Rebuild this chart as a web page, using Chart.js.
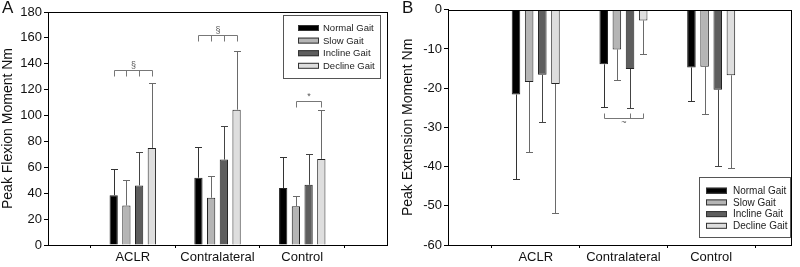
<!DOCTYPE html>
<html>
<head>
<meta charset="utf-8">
<script src="https://cdn.jsdelivr.net/npm/chart.js@4.4.0/dist/chart.umd.min.js"></script>
<style>
  html, body { margin: 0; padding: 0; background: #fff; }
  #wrap { display: flex; width: 800px; height: 267px; }
  canvas { display: block; }
</style>
</head>
<body>
<div id="wrap">
  <canvas id="chartA" width="400" height="267"></canvas>
  <canvas id="chartB" width="400" height="267"></canvas>
</div>
<script>
/* ── Data ─────────────────────────────────────────────────────── */

const CATEGORIES = ['ACLR', 'Contralateral', 'Control'];
const SERIES = ['Normal Gait', 'Slow Gait', 'Incline Gait', 'Decline Gait'];

// Panel A: peak flexion moment (mean, SD) per group
const FLEX_NORMAL  = [38.5, 52, 44];
const FLEX_SLOW    = [30.5, 36.5, 30];
const FLEX_INCLINE = [46, 66, 46.5];
const FLEX_DECLINE = [75, 104.5, 66.5];
const FLEX_SD_NORMAL  = [20.5, 23.5, 24];
const FLEX_SD_SLOW    = [19.5, 16.5, 7.5];
const FLEX_SD_INCLINE = [26, 26, 24];
const FLEX_SD_DECLINE = [50, 45.5, 37.5];

// Panel B: peak extension moment (mean, SD) per group
const EXT_NORMAL  = [-21.6, -13.9, -14.7];
const EXT_SLOW    = [-18.4, -10.1, -14.5];
const EXT_INCLINE = [-16.6, -15.1, -20.4];
const EXT_DECLINE = [-18.9, -2.7, -16.7];
const EXT_SD_NORMAL  = [21.5, 10.9, 8.5];
const EXT_SD_SLOW    = [17.9, 7.9, 12.1];
const EXT_SD_INCLINE = [11.9, 9.9, 19.4];
const EXT_SD_DECLINE = [33.0, 8.6, 23.6];

// significance brackets: group index, series indices, y level, symbol
const FLEX_BRACKETS = [
    { group: 0, bars: [0, 1, 2, 3], y: 135, label: '§' },
    { group: 1, bars: [0, 1, 2, 3], y: 162.6, label: '§' },
    { group: 2, bars: [1, 3], y: 111, label: '*' },
];
const EXT_BRACKETS = [
    { group: 1, bars: [0, 2, 3], y: -27.7, label: '~' },
];

/* ── Style ────────────────────────────────────────────────────── */

const BAR_COLORS = ['#000000', '#b5b5b5', '#5e5e5e', '#dedede'];
const ERR_COLORS = ['#333333', '#6a6a6a', '#444444', '#6a6a6a'];
const FONT = '"Liberation Sans", Arial, sans-serif';
const INK = '#111';

/* ── Overlay plugin: error bars, brackets, frame, legend, letter ─ */

const overlay = {
    id: 'overlay',
    afterDatasetsDraw(chart, args, o) {
        const ctx = chart.ctx, ys = chart.scales.y;
        ctx.save();
        ctx.lineWidth = 1;
        chart.data.datasets.forEach((ds, di) => {
            const meta = chart.getDatasetMeta(di);
            ctx.strokeStyle = ERR_COLORS[di];
            meta.data.forEach((bar, i) => {
                const v = ds.data[i].y;
                const y0 = ys.getPixelForValue(v);
                const y1 = Math.round(ys.getPixelForValue(v + o.dir * ds.sd[i])) + 0.5;
                const x = Math.round(bar.x) + 0.5;
                ctx.beginPath();
                ctx.moveTo(x, y0); ctx.lineTo(x, y1);
                ctx.moveTo(x - 3.5, y1); ctx.lineTo(x + 3.5, y1);
                ctx.stroke();
            });
        });
        // brackets
        ctx.strokeStyle = '#777';
        ctx.fillStyle = '#555';
        ctx.textAlign = 'center';
        ctx.textBaseline = 'middle';
        ctx.font = `9px ${FONT}`;
        for (const b of o.brackets) {
            const xs = b.bars.map(di => Math.round(chart.getDatasetMeta(di).data[b.group].x) + 0.5);
            const y = Math.round(ys.getPixelForValue(b.y)) + 0.5;
            const t = o.dir > 0 ? 6 : -5;
            ctx.beginPath();
            ctx.moveTo(xs[0], y); ctx.lineTo(xs[xs.length - 1], y);
            xs.forEach(x => { ctx.moveTo(x, y); ctx.lineTo(x, y + t); });
            ctx.stroke();
            ctx.fillText(b.label, (xs[0] + xs[xs.length - 1]) / 2, y - (o.dir > 0 ? 5 : -4));
        }
        ctx.restore();
    },
    afterDraw(chart, args, o) {
        const ctx = chart.ctx, a = chart.chartArea;
        ctx.save();
        // frame
        ctx.strokeStyle = '#000';
        ctx.lineWidth = 1;
        ctx.strokeRect(Math.round(a.left) + 0.5, Math.round(a.top) + 0.5,
            Math.round(a.right - a.left), Math.round(a.bottom - a.top));
        // legend
        const L = o.legend;
        ctx.strokeStyle = '#555';
        ctx.strokeRect(L.x + 0.5, L.y + 0.5, L.w, L.h);
        ctx.font = `${L.font}px ${FONT}`;
        ctx.textAlign = 'left';
        ctx.textBaseline = 'middle';
        SERIES.forEach((s, i) => {
            const cy = L.row0 + i * L.gap;
            ctx.fillStyle = BAR_COLORS[i];
            ctx.fillRect(L.sx, cy - 3, 21, 6);
            ctx.strokeStyle = '#333';
            ctx.strokeRect(L.sx + 0.5, cy - 3 + 0.5, 20, 5);
            ctx.fillStyle = '#222';
            ctx.fillText(s, L.tx, cy + 0.5);
        });
        // panel letter
        ctx.fillStyle = INK;
        ctx.font = `17px ${FONT}`;
        ctx.textBaseline = 'top';
        ctx.fillText(o.letter, 2, 0);
        ctx.restore();
    }
};

/* ── Chart factory ────────────────────────────────────────────── */

function makeDatasets(means, sds) {
    return means.map((vals, si) => ({
        label: SERIES[si],
        data: vals.map((v, i) => ({ x: i + 1, y: v })),
        sd: sds[si],
        backgroundColor: BAR_COLORS[si],
        borderColor: '#222',
        borderWidth: 1,
        categoryPercentage: 0.6,
        barPercentage: 0.65,
    }));
}

function makeChart(id, p) {
    return new Chart(document.getElementById(id), {
        type: 'bar',
        data: { datasets: makeDatasets(p.means, p.sds) },
        options: {
            responsive: false,
            animation: false,
            events: [],
            layout: { padding: p.padding },
            plugins: {
                legend: { display: false },
                tooltip: { enabled: false },
                overlay: { dir: p.dir, brackets: p.brackets, legend: p.legend, letter: p.letter },
            },
            scales: {
                x: {
                    type: 'linear', min: 0, max: p.xMax, offset: false,
                    afterBuildTicks: s => { s.ticks = CATEGORIES.map((c, i) => ({ value: i + 1 })); },
                    ticks: {
                        callback: v => CATEGORIES[v - 1] || '',
                        autoSkip: false, maxRotation: 0, padding: 2,
                        font: { family: FONT, size: 13 }, color: INK,
                    },
                    grid: { drawOnChartArea: false, tickLength: 3, color: '#000' },
                    border: { color: '#000' },
                    afterFit: s => { s.height = 22; },
                },
                y: {
                    min: p.yMin, max: p.yMax,
                    ticks: { stepSize: p.step, padding: 2, font: { family: FONT, size: 13 }, color: INK },
                    grid: { drawOnChartArea: false, tickLength: 4, color: '#000' },
                    border: { color: '#000' },
                    title: { display: true, text: p.yTitle, padding: 0, font: { family: FONT, size: 14 }, color: INK },
                    afterFit: s => { s.width = 48; },
                },
            },
        },
        plugins: [overlay],
    });
}

makeChart('chartA', {
    means: [FLEX_NORMAL, FLEX_SLOW, FLEX_INCLINE, FLEX_DECLINE],
    sds: [FLEX_SD_NORMAL, FLEX_SD_SLOW, FLEX_SD_INCLINE, FLEX_SD_DECLINE],
    yMin: 0, yMax: 180, step: 20, xMax: 4, dir: 1,
    yTitle: 'Peak Flexion Moment Nm',
    brackets: FLEX_BRACKETS, letter: 'A',
    padding: { left: 0, right: 13, top: 12, bottom: 0 },
    legend: { x: 283, y: 15, w: 97, h: 63, sx: 298, tx: 323, row0: 28, gap: 12.6, font: 9.5 },
});

makeChart('chartB', {
    means: [EXT_NORMAL, EXT_SLOW, EXT_INCLINE, EXT_DECLINE],
    sds: [EXT_SD_NORMAL, EXT_SD_SLOW, EXT_SD_INCLINE, EXT_SD_DECLINE],
    yMin: -60, yMax: 0, step: 10, xMax: 3.91, dir: -1,
    yTitle: 'Peak Extension Moment Nm',
    brackets: EXT_BRACKETS, letter: 'B',
    padding: { left: 0, right: 9, top: 7, bottom: 0 },
    legend: { x: 299, y: 177, w: 91, h: 60, sx: 306, tx: 333, row0: 190.7, gap: 11.7, font: 10 },
});
</script>
</body>
</html>
